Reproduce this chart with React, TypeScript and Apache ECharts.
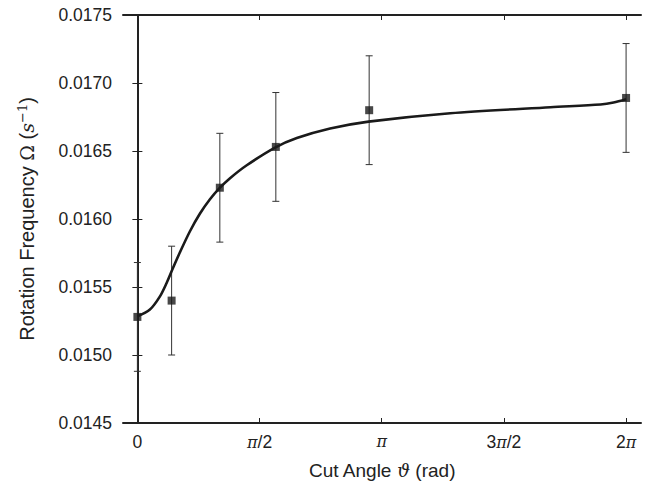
import React, { useEffect, useRef } from "react";
import * as echarts from "echarts";

const PI = Math.PI;

// measured points (cut angle in rad, frequency, error)
const pointX = [0, 0.44, 1.06, 1.78, 2.98, 2 * PI];
const pointY = [0.01528, 0.0154, 0.01623, 0.01653, 0.0168, 0.01689];
const pointErr = [0.0004, 0.0004, 0.0004, 0.0004, 0.0004, 0.0004];

// fitted curve
const curveX = [0, 0.161, 0.29, 0.376, 0.448, 0.547, 0.676, 0.805, 0.933, 1.062, 1.191, 1.406, 1.77, 2.05, 2.478, 2.972, 4.023, 5.311, 5.955, 6.122, 2 * PI];
const curveY = [0.015284, 0.015334, 0.015431, 0.01553, 0.015627, 0.015755, 0.01591, 0.01604, 0.016145, 0.01623, 0.0163, 0.016395, 0.016525, 0.016595, 0.016665, 0.016716, 0.016778, 0.016822, 0.016842, 0.016856, 0.01688];

const xTickValues = [0, PI / 2, PI, (3 * PI) / 2, 2 * PI];
const xTickLabels = ["0", "{pi|π}/2", "{pi|π}", "3{pi|π}/2", "2{pi|π}"];

const INK = "#222222";
const FONT = "'Liberation Sans', Arial, sans-serif";

export default function App() {
  const ref = useRef<HTMLDivElement>(null);
  useEffect(() => {
    if (!ref.current) return;
    const chart = echarts.init(ref.current, null, { renderer: "svg" });
    const axisLine = { show: true, lineStyle: { color: INK, width: 2 } };
    const tick = { show: true, inside: true, length: 5, lineStyle: { color: INK, width: 1 } };
    const xMin = -0.185;
    const xMax = 6.475;
    chart.setOption({
      animation: false,
      backgroundColor: "#ffffff",
      grid: { left: 123, right: 13, top: 15, bottom: 66, containLabel: false },
      xAxis: [
        {
          type: "value",
          min: xMin,
          max: xMax,
          axisLine,
          axisTick: { ...tick, customValues: xTickValues },
          splitLine: { show: false },
          axisLabel: {
            customValues: xTickValues,
            formatter: (v: number) => {
              const i = xTickValues.findIndex((t) => Math.abs(t - v) < 1e-6);
              return i >= 0 ? xTickLabels[i] : "";
            },
            color: INK,
            fontFamily: FONT,
            fontSize: 17.5,
            margin: 10,
            rich: {
              pi: { fontFamily: "'DejaVu Serif', serif", fontStyle: "italic", fontSize: 16, color: INK },
            },
          },
          name: "Cut Angle {th|ϑ} (rad)",
          nameLocation: "middle",
          nameGap: 38,
          nameTextStyle: {
            color: INK,
            fontFamily: FONT,
            fontSize: 19,
            rich: {
              th: { fontFamily: "'DejaVu Serif', serif", fontStyle: "italic", fontSize: 18, color: INK },
            },
          },
        },
        {
          type: "value",
          position: "top",
          min: xMin,
          max: xMax,
          axisLine,
          axisTick: { ...tick, customValues: xTickValues },
          axisLabel: { show: false },
          splitLine: { show: false },
        },
      ],
      yAxis: [
        {
          type: "value",
          min: 0.0145,
          max: 0.0175,
          interval: 0.0005,
          axisLine,
          axisTick: tick,
          splitLine: { show: false },
          axisLabel: {
            formatter: (v: number) => v.toFixed(4),
            color: INK,
            fontFamily: FONT,
            fontSize: 17.5,
            margin: 11,
          },
          name: "Rotation Frequency {om|Ω} ({it|s}{sup|−1})",
          nameLocation: "middle",
          nameGap: 85,
          nameTextStyle: {
            color: INK,
            fontFamily: FONT,
            fontSize: 20,
            rich: {
              om: { fontFamily: "'DejaVu Serif', serif", fontSize: 19, color: INK },
              it: { fontFamily: "'DejaVu Serif', serif", fontStyle: "italic", fontSize: 19, color: INK },
              sup: { fontFamily: "'DejaVu Serif', serif", fontSize: 13, color: INK, verticalAlign: "top", padding: [0, 0, 9, 0] },
            },
          },
        },
        {
          type: "value",
          position: "right",
          min: 0.0145,
          max: 0.0175,
          interval: 0.0005,
          axisLine,
          axisTick: tick,
          axisLabel: { show: false },
          splitLine: { show: false },
        },
      ],
      series: [
        {
          type: "line",
          data: curveX.map((x, i) => [x, curveY[i]]),
          smooth: 0.3,
          showSymbol: false,
          lineStyle: { color: "#1a1a1a", width: 2.6 },
          z: 2,
        },
        {
          type: "custom",
          data: pointX.map((x, i) => [x, pointY[i], pointErr[i]]),
          renderItem: (params: any, api: any) => {
            const x = api.value(0);
            const y = api.value(1);
            const e = api.value(2);
            const top = api.coord([x, y + e]);
            const bot = api.coord([x, y - e]);
            const cap = 3.5;
            const style = { stroke: "#333333", lineWidth: 1 };
            return {
              type: "group",
              children: [
                { type: "line", shape: { x1: top[0], y1: top[1], x2: bot[0], y2: bot[1] }, style },
                { type: "line", shape: { x1: top[0] - cap, y1: top[1], x2: top[0] + cap, y2: top[1] }, style },
                { type: "line", shape: { x1: bot[0] - cap, y1: bot[1], x2: bot[0] + cap, y2: bot[1] }, style },
              ],
            };
          },
          z: 1,
        },
        {
          type: "scatter",
          data: pointX.map((x, i) => [x, pointY[i]]),
          symbol: "rect",
          symbolSize: 8,
          itemStyle: { color: "#1a1a1a" },
          z: 3,
        },
      ],
    });
    return () => chart.dispose();
  }, []);
  return <div ref={ref} style={{ width: 654, height: 489, position: "absolute", left: 0, top: 0 }} />;
}
